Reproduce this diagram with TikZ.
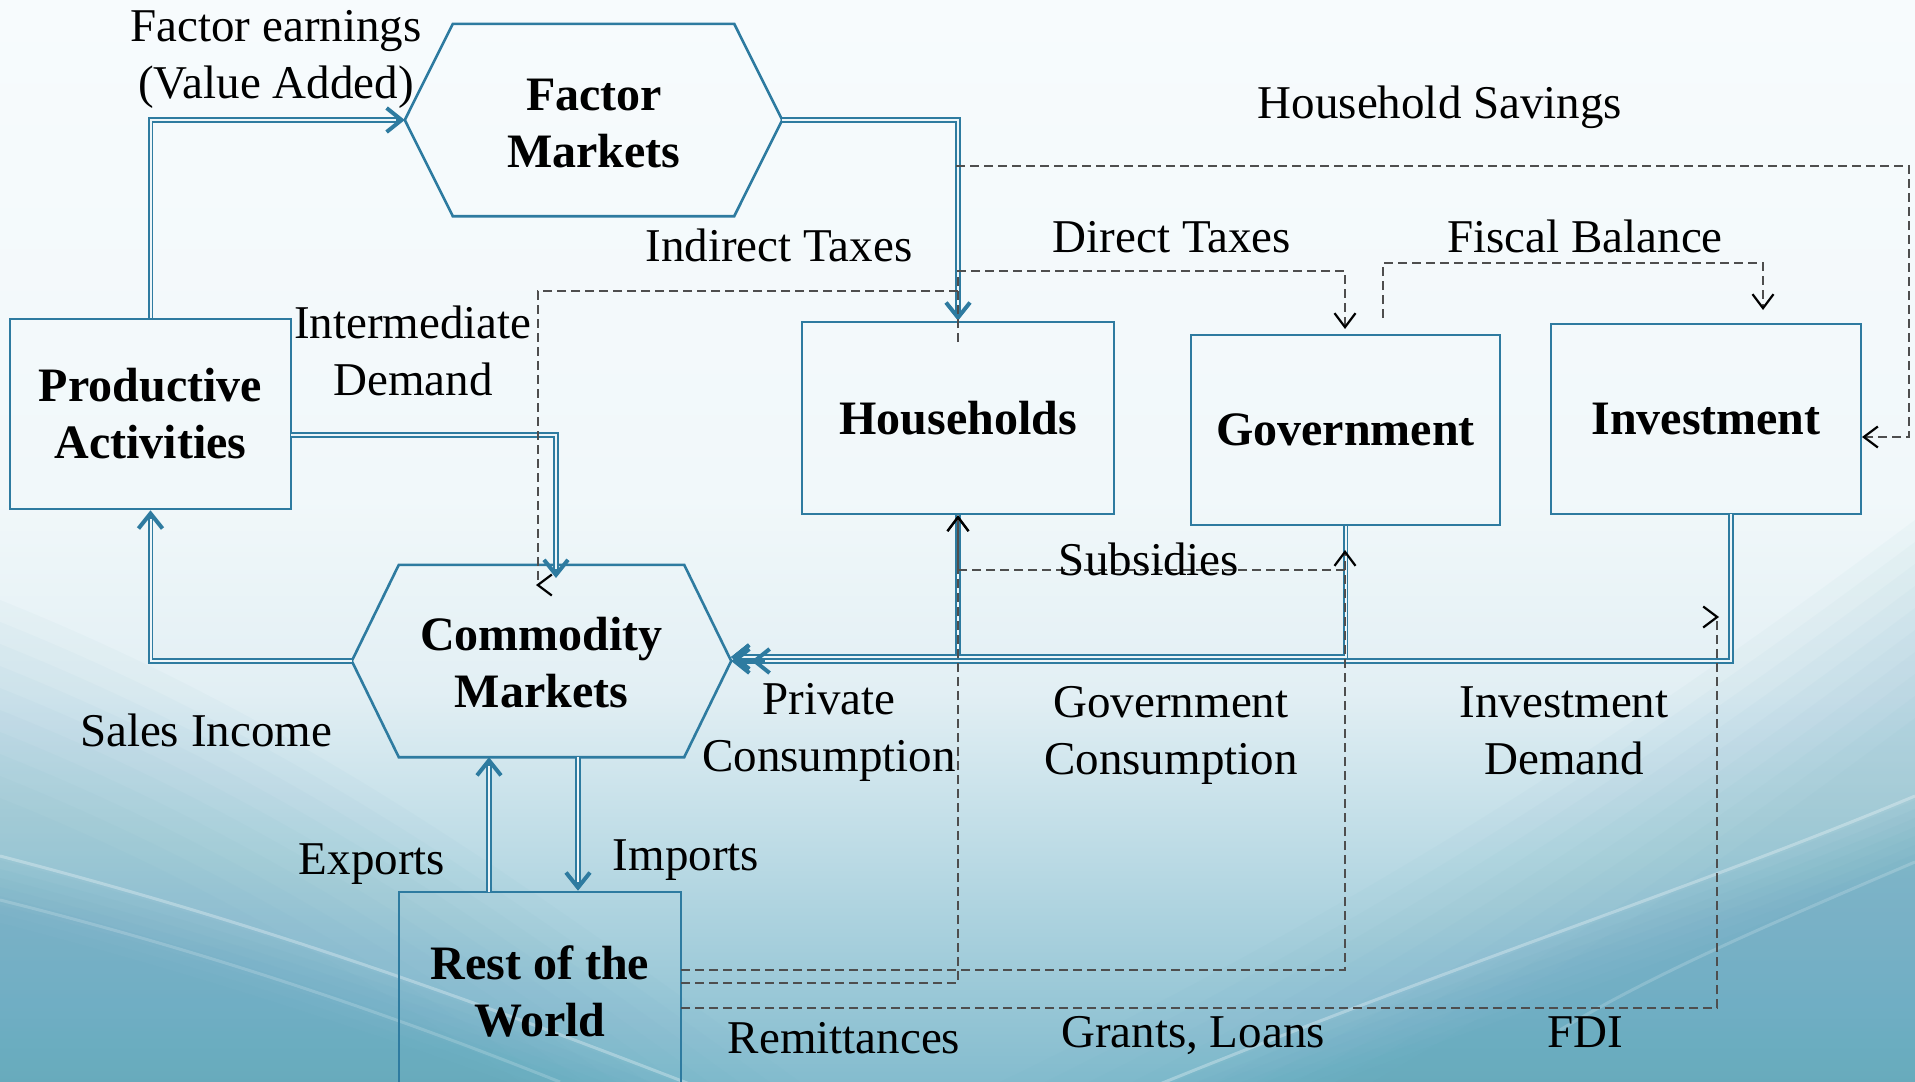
\documentclass[tikz,border=0pt]{standalone}
\usepackage{fontspec}
\setmainfont{Liberation Serif}
\usetikzlibrary{arrows.meta,calc}

\definecolor{flowblue}{RGB}{46,123,160}
\definecolor{flowgap}{RGB}{238,246,249}
\definecolor{dashgray}{RGB}{78,78,78}
\definecolor{bgtop}{RGB}{247,251,253}
\definecolor{bgu}{RGB}{241,248,250}
\definecolor{bgm}{RGB}{226,239,244}
\definecolor{bgl}{RGB}{190,220,230}
\definecolor{bgb}{RGB}{132,188,206}
\definecolor{wave}{RGB}{92,163,187}

\pgfdeclareverticalshading{bgfade}{100bp}{color(0bp)=(bgb); color(25bp)=(bgb); color(36bp)=(bgl); color(43bp)=(bgm); color(52bp)=(bgu); color(75bp)=(bgtop); color(100bp)=(bgtop)}

\newcommand\nodefont{\fontsize{48}{57}\selectfont\bfseries}
\newcommand\labelfont{\fontsize{47}{57}\selectfont}

\begin{document}
\begin{tikzpicture}[x=1pt,y=-1pt,
  box/.style={draw=flowblue, line width=2.6pt, rectangle, font=\nodefont, align=center, inner sep=0pt},
  hexnode/.style={rectangle, draw=none, inner sep=0pt},
  hextext/.style={font=\nodefont, align=center, inner sep=0pt},
  hexline/.style={draw=flowblue, line width=2.6pt, line join=miter},
  lbl/.style={font=\labelfont, align=center, inner sep=0pt},
  flow/.style={draw=flowgap, line width=2pt, shorten >=9pt,
    preaction={draw=flowblue, line width=5.5pt, shorten >=0pt,
      -{Straight Barb[length=15pt,width=24pt,line width=4pt]}}},
  flowtwo/.style={draw=flowgap, line width=2pt, shorten >=34pt,
    preaction={draw=flowblue, line width=5.5pt, shorten >=0pt,
      -{Straight Barb[length=15pt,width=24pt,line width=4pt] Straight Barb[length=15pt,width=24pt,line width=4pt]}}},
  dflow/.style={draw=dashgray, line width=2.3pt, dash pattern=on 9pt off 5pt},
  dtip/.style={-{Straight Barb[length=14pt,width=21pt,line width=2.2pt,color=black]}}
]
\useasboundingbox (0,0) rectangle (1915,1082);

% background wash with soft waves towards the bottom corners
\begin{scope}
  \clip (0,0) rectangle (1915,1082);
  \shade[shading=bgfade] (0,0) rectangle (1915,1082);
  % broad tint, left and right
  \foreach \k in {0,...,9} {
    \fill[wave, opacity=0.035] (0,600+\k*22) .. controls (300,720+\k*22) and (520,880+\k*22) .. (800,1082+\k*22) -- (0,1400) -- cycle;
    \fill[wave, opacity=0.035] (1915,520+\k*22) .. controls (1700,680+\k*22) and (1420,880+\k*22) .. (1000,1082+\k*22) -- (1915,1400) -- cycle;
  }
  % deeper band under the highlight streaks
  \foreach \k in {0,...,7} {
    \fill[wave, opacity=0.06] (0,860+\k*9) .. controls (250,925+\k*9) and (450,995+\k*9) .. (700,1092+\k*9) -- (0,1400) -- cycle;
    \fill[wave, opacity=0.06] (1915,800+\k*9) .. controls (1700,890+\k*9) and (1450,970+\k*9) .. (1150,1092+\k*9) -- (1915,1400) -- cycle;
  }
  \draw[white, opacity=0.3, line width=3pt] (0,856) .. controls (250,921) and (450,991) .. (700,1088);
  \draw[white, opacity=0.3, line width=3pt] (1915,796) .. controls (1700,886) and (1450,966) .. (1150,1088);
  \draw[white, opacity=0.18, line width=3pt] (0,900) .. controls (200,950) and (380,1010) .. (560,1082);
  \draw[white, opacity=0.18, line width=3pt] (1915,862) .. controls (1780,920) and (1660,970) .. (1560,1030);
\end{scope}

% markets (hexagons)
\node[hexnode, minimum width=377pt, minimum height=192pt] (fm) at (593.5,120) {};
\draw[hexline] (fm.west) -- ($(fm.north west)+(48,0)$) -- ($(fm.north east)+(-48,0)$) -- (fm.east)
  -- ($(fm.south east)+(-48,0)$) -- ($(fm.south west)+(48,0)$) -- cycle;
\node[hextext] (fm-text) at (594,124) {Factor\\Markets};
\node[hexnode, minimum width=379pt, minimum height=192pt] (cm) at (541.5,661) {};
\draw[hexline] (cm.west) -- ($(cm.north west)+(47,0)$) -- ($(cm.north east)+(-47,0)$) -- (cm.east)
  -- ($(cm.south east)+(-47,0)$) -- ($(cm.south west)+(47,0)$) -- cycle;
\node[hextext] (cm-text) at (541.5,663) {Commodity\\Markets};

% institutions (boxes)
\node[box, minimum width=281pt, minimum height=190pt] (pa) at (150.5,414) {Productive\\Activities};
\node[box, minimum width=312pt, minimum height=192pt] (hh) at (958,418) {Households};
\node[box, minimum width=309pt, minimum height=190pt] (gov) at (1345.5,430) {Government};
\node[box, minimum width=310pt, minimum height=190pt] (inv) at (1706,419) {Investment};
\node[box, minimum width=282pt, minimum height=198pt] (row) at (540,991) {Rest of the\\World};

% connector end points
\coordinate (pa-id) at (291,435);
\coordinate (cm-id) at (556,578);
\coordinate (cm-in) at (731,657);
\coordinate (inv-out) at (1731,514);
\coordinate (cm-imp) at (578,757);
\coordinate (row-exp) at (489,892);

% real flows
\draw[flow] (pa.north) |- (fm.west);
\draw[flow] (fm.east) -| (hh.north);
\draw[flow] (pa-id) -| (cm-id);
\draw[flow] (cm.west) -| (pa.south);
\draw[flow] (hh.south) |- (cm-in);
\draw[flow] (gov.south) |- (cm-in);
\draw[flowtwo] (inv-out) |- (cm.east);
\draw[flow] (cm-imp) -- (cm-imp |- row.north);
\draw[flow] (row-exp) -- (row-exp |- cm.south);

% monetary transfers (dashed)
\coordinate (it-s) at (958,291);
\coordinate (it-e) at (538,585);
\coordinate (dt-s) at (958,342);
\coordinate (dt-e) at (1345,329);
\coordinate (fb-s) at (1383,318);
\coordinate (fb-e) at (1763,310);
\coordinate (hs-s) at (956,166);
\coordinate (hs-e) at (1862,437);
\coordinate (sb-s) at (1345,570);
\coordinate (rm-s) at (681,983);
\coordinate (gl-s) at (681,970);
\coordinate (gl-e) at (1345,550);
\coordinate (fdi-s) at (681,1008);
\coordinate (fdi-e) at (1717,617);

\draw[dflow, dtip] (it-s) -| (it-e) -- ++(-2,0);
\draw[dflow, dtip] (dt-s) -- ++(0,-71) -| (dt-e);
\draw[dflow, dtip] (fb-s) -- ++(0,-55) -| (fb-e);
\draw[dflow, dtip] (hs-s) -- ++(953,0) |- (hs-e);
\draw[dflow, dtip] (sb-s) -| (hh.south);
\draw[dflow, dtip] (rm-s) -| (hh.south);
\draw[dflow, dtip] (gl-s) -| (gl-e);
\draw[dflow, dtip] (fdi-s) -| (fdi-e) -- ++(2,0);

% labels
\node[lbl] (l-fe) at (276,59) {Factor earnings\\(Value Added)};
\node[lbl] (l-it) at (779,245) {Indirect Taxes};
\node[lbl] (l-dt) at (1172,237) {Direct Taxes};
\node[lbl] (l-fb) at (1585,236) {Fiscal Balance};
\node[lbl] (l-hs) at (1440,107) {Household Savings};
\node[lbl] (l-id) at (413,351) {Intermediate\\Demand};
\node[lbl] (l-sb) at (1149,559) {Subsidies};
\node[lbl] (l-pc) at (829,732) {Private\\Consumption};
\node[lbl] (l-gc) at (1171,735) {Government\\Consumption};
\node[lbl] (l-idm) at (1564,731) {Investment\\Demand};
\node[lbl] (l-si) at (206,730) {Sales Income};
\node[lbl] (l-ex) at (372,864) {Exports};
\node[lbl] (l-im) at (686,860) {Imports};
\node[lbl] (l-rm) at (844,1038) {Remittances};
\node[lbl] (l-gl) at (1193,1036) {Grants, Loans};
\node[lbl] (l-fdi) at (1585,1032) {FDI};
\end{tikzpicture}
\end{document}
